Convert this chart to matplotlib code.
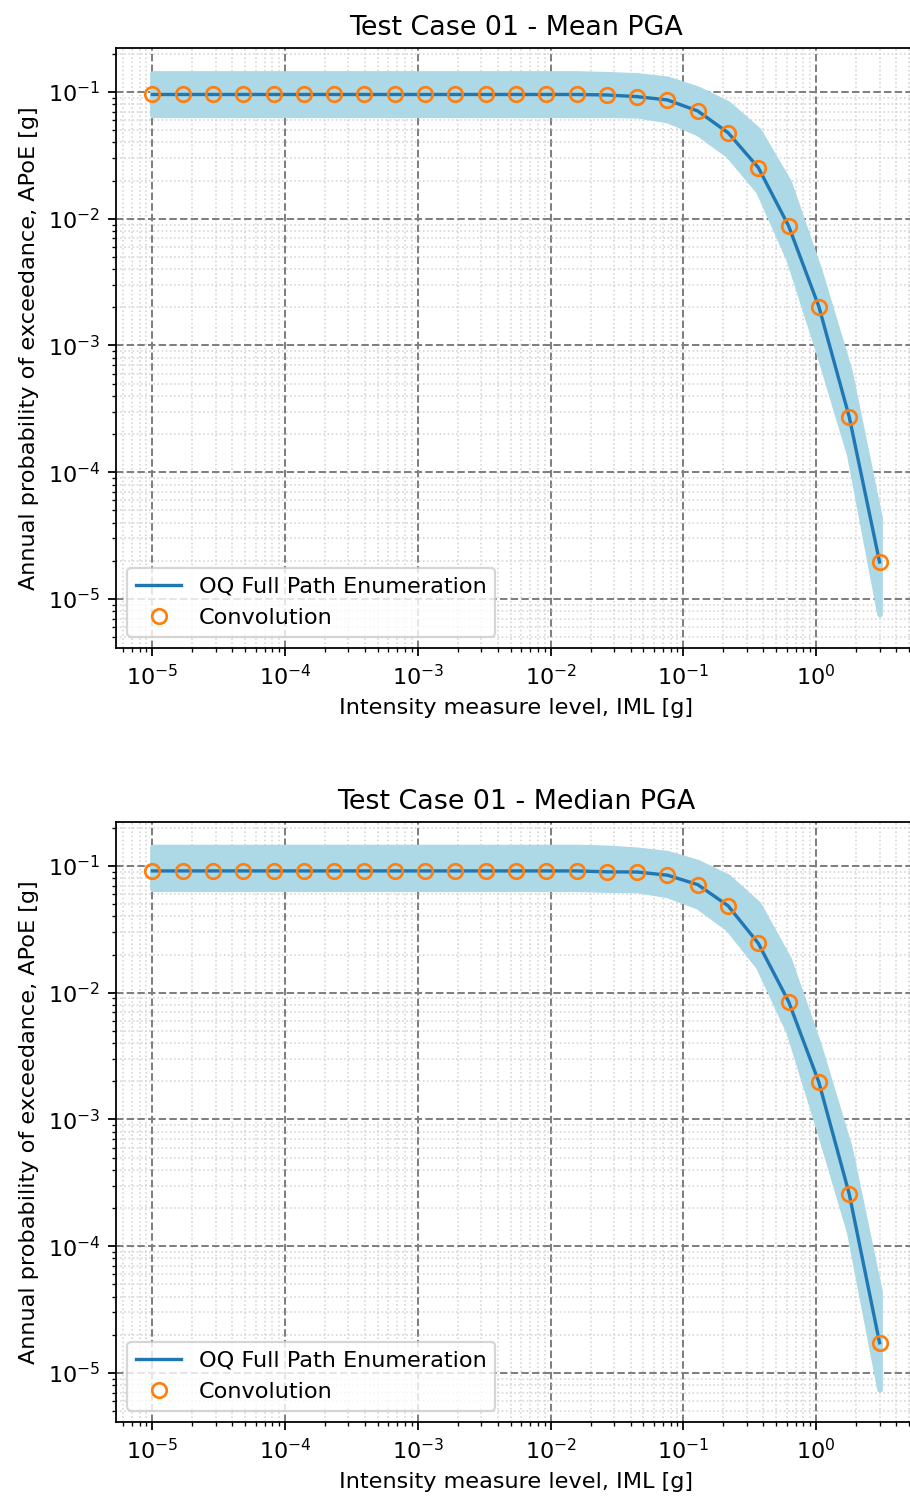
import numpy as np
import matplotlib
matplotlib.use('Agg')
import matplotlib.pyplot as plt

# Intensity measure levels [g]
iml = [1.0e-5, 1.691e-5, 2.860e-5, 4.837e-5, 8.180e-5, 1.383e-4, 2.339e-4,
       3.957e-4, 6.691e-4, 1.132e-3, 1.914e-3, 3.237e-3, 5.475e-3, 9.261e-3,
       1.566e-2, 2.649e-2, 4.480e-2, 7.577e-2, 0.1281, 0.2167, 0.3665,
       0.6199, 1.048, 1.773, 3.0]

# Mean hazard curve (OQ full path enumeration) and its band
oq_mean = [0.0955] * 15 + [0.0947, 0.0918, 0.0865, 0.0708, 0.0477, 0.0253,
                           0.00876, 0.00202, 2.73e-4, 1.96e-5]
mean_upper = [0.140] * 15 + [0.138, 0.135, 0.127, 0.106, 0.081, 0.050,
                             0.0196, 0.0040, 6.4e-4, 4.4e-5]
mean_lower = [0.066] * 15 + [0.066, 0.0655, 0.060, 0.0475, 0.0318, 0.0165,
                             0.0048, 8.6e-4, 1.38e-4, 7.6e-6]
conv_mean = [0.0955] * 15 + [0.0947, 0.0918, 0.0865, 0.0708, 0.0477, 0.0253,
                             0.00876, 0.00202, 2.73e-4, 1.96e-5]

# Median hazard curve and its band
oq_median = [0.0913] * 15 + [0.0898, 0.0895, 0.0845, 0.0712, 0.0485, 0.0245,
                             0.0085, 0.00196, 2.58e-4, 1.73e-5]
median_upper = [0.141] * 15 + [0.139, 0.134, 0.126, 0.107, 0.082, 0.050,
                               0.0185, 0.0038, 6.1e-4, 4.4e-5]
median_lower = [0.066] * 15 + [0.065, 0.0645, 0.059, 0.048, 0.032, 0.016,
                                0.0049, 8.3e-4, 1.29e-4, 7.4e-6]
conv_median = [0.0913] * 15 + [0.0898, 0.0895, 0.0845, 0.0712, 0.0485, 0.0245,
                               0.0085, 0.00196, 2.58e-4, 1.73e-5]

titles = ['Test Case 01 - Mean PGA', 'Test Case 01 - Median PGA']
curves = [(oq_mean, mean_lower, mean_upper, conv_mean),
          (oq_median, median_lower, median_upper, conv_median)]

dpi = 161
fig = plt.figure(figsize=(910 / dpi, 1497 / dpi), dpi=dpi)
positions = [[0.1275, 0.5671, 0.879, 0.4008],
             [0.1275, 0.0501, 0.879, 0.4008]]

for pos, title, (oq, lo, hi, conv) in zip(positions, titles, curves):
    ax = fig.add_axes(pos)
    ax.fill_between(iml, lo, hi, facecolor='lightblue', edgecolor='lightblue',
                    linewidth=2.5, joinstyle='round')
    ax.plot(iml, oq, color='tab:blue', label='OQ Full Path Enumeration')
    ax.plot(iml, conv, 'o', markerfacecolor='none', markeredgecolor='tab:orange',
            markeredgewidth=1.2, markersize=6.5, label='Convolution')
    ax.set_xscale('log')
    ax.set_yscale('log')
    ax.set_ylim(4.1e-6, 0.222)
    ax.set_axisbelow(True)
    ax.grid(True, which='major', linestyle='--', color='gray', linewidth=0.9)
    ax.grid(True, which='minor', linestyle=':', color='lightgray', linewidth=0.7)
    ax.set_title(title)
    ax.set_xlabel('Intensity measure level, IML [g]')
    ax.set_ylabel('Annual probability of exceedance, APoE [g]')
    ax.legend(loc='lower left')

plt.savefig('out.png', dpi=dpi)
plt.close()
